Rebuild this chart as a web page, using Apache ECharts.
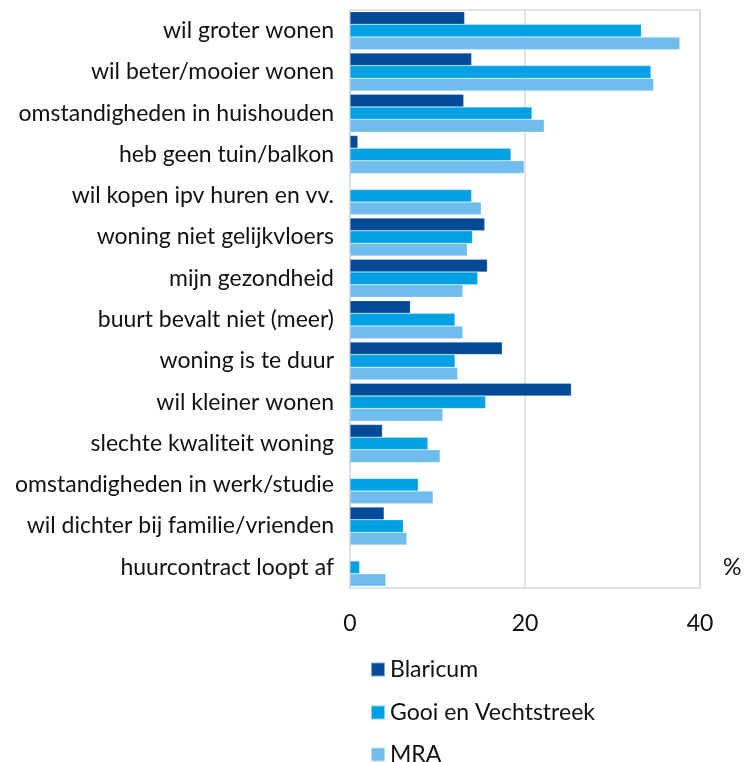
<!DOCTYPE html>
<html><head><meta charset="utf-8">
<script src="https://cdn.jsdelivr.net/npm/echarts@6/dist/echarts.min.js"></script>
<style>html,body{margin:0;padding:0;background:#fff}#c{width:755px;height:762px}</style>
</head><body><div id="c"></div>
<script>
const categories = ["wil groter wonen","wil beter/mooier wonen","omstandigheden in huishouden","heb geen tuin/balkon","wil kopen ipv huren en vv.","woning niet gelijkvloers","mijn gezondheid","buurt bevalt niet (meer)","woning is te duur","wil kleiner wonen","slechte kwaliteit woning","omstandigheden in werk/studie","wil dichter bij familie/vrienden","huurcontract loopt af"];
const seriesNames = ["Blaricum","Gooi en Vechtstreek","MRA"];
const blaricum = [13.1,13.9,13.0,0.9,0,15.4,15.7,6.9,17.4,25.3,3.7,0,3.9,0];
const gooi = [33.3,34.4,20.8,18.4,13.9,14.0,14.6,12.0,12.0,15.5,8.9,7.8,6.1,1.1];
const mra = [37.7,34.7,22.2,19.9,15.0,13.4,12.9,12.9,12.3,10.6,10.3,9.5,6.5,4.1];
const xTicks = [0,20,40];
const font = "Lato";
const fs = 23;
const chart = echarts.init(document.getElementById('c'));
const mk = (name, data, color) => ({name, type:'bar', data, barGap:'0%', barCategoryGap:'8%',
  itemStyle:{color, borderColor:'rgba(255,255,255,0.5)', borderWidth:0.5}});
const legendTops = [653, 696, 738];
chart.setOption({
  animation:false,
  textStyle:{fontFamily:font},
  grid:{left:350,right:55,top:10,bottom:174,show:true,borderColor:'#d9d9d9',borderWidth:1.5},
  xAxis:{type:'value',min:xTicks[0],max:xTicks[xTicks.length-1],interval:20,
    axisLine:{show:false},axisTick:{show:false},
    splitLine:{lineStyle:{color:'#d9d9d9',width:1.5}},
    axisLabel:{margin:24,fontSize:fs,color:'#111',fontFamily:font}},
  yAxis:{type:'category',data:categories,inverse:true,
    axisLine:{lineStyle:{color:'#d9d9d9',width:1.5}},axisTick:{show:false},
    axisLabel:{margin:16,fontSize:fs,color:'#111',fontFamily:font}},
  legend:seriesNames.map((n,i)=>({data:[n],orient:'vertical',left:365,top:legendTops[i],itemWidth:14,itemHeight:14,
    icon:'rect',itemGap:6,textStyle:{fontSize:fs,color:'#111',fontFamily:font}})),
  graphic:[{type:'text',left:723,top:556,style:{text:'%',fontSize:fs,fill:'#111',fontFamily:font}}],
  series:[mk(seriesNames[0],blaricum,'#004A98'),mk(seriesNames[1],gooi,'#00A0E4'),mk(seriesNames[2],mra,'#70BCEC')]
});
</script></body></html>
